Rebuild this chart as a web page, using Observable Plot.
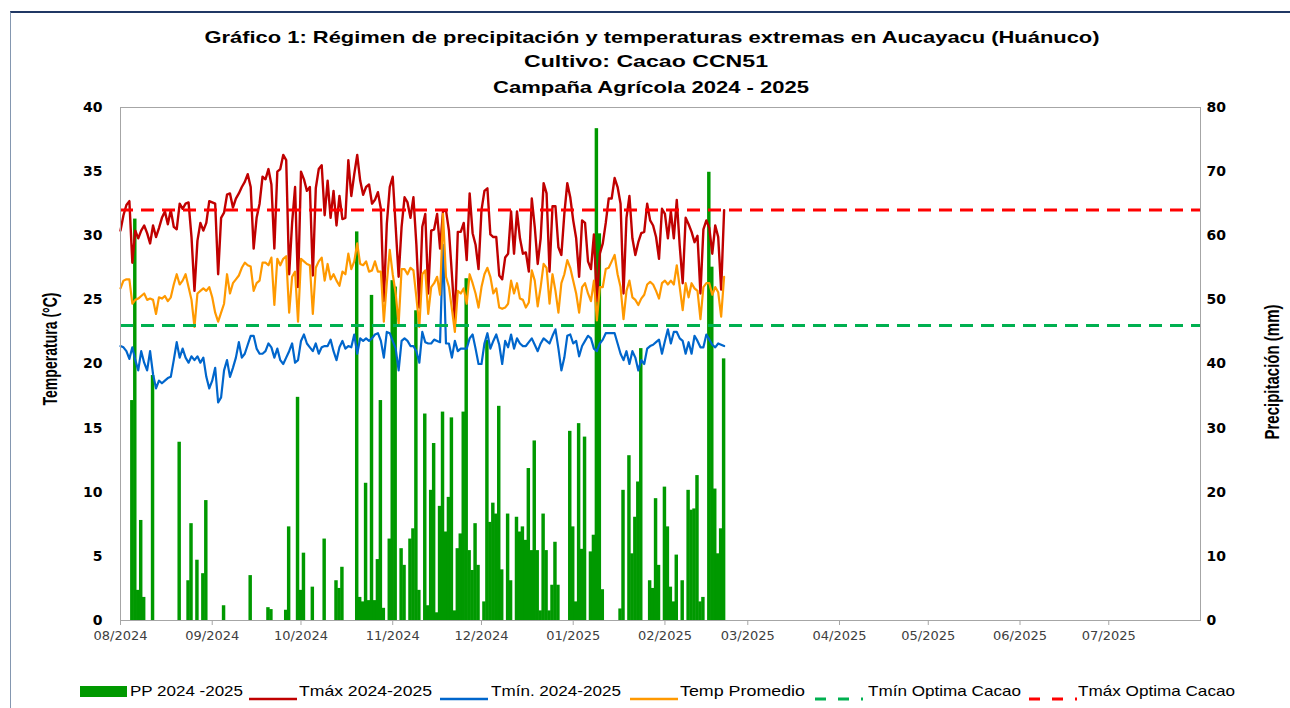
<!DOCTYPE html>
<html><head><meta charset="utf-8">
<script src="https://cdn.jsdelivr.net/npm/d3@7"></script>
<script src="https://cdn.jsdelivr.net/npm/@observablehq/plot@0.6"></script>
<style>
 body{margin:0;background:#fff;}
 #wrap{position:relative;width:1290px;height:708px;overflow:hidden;background:#fff;}
 #border{position:absolute;left:10px;top:11px;width:1300px;height:720px;border-top:2px solid #203864;border-left:1.5px solid #8497B0;box-sizing:border-box;}
 .t{position:absolute;white-space:nowrap;font-family:"Liberation Sans",Arial,sans-serif;font-weight:bold;color:#000;line-height:1;}
 #chart{position:absolute;left:0;top:90px;}
 .leg{position:absolute;white-space:nowrap;font-family:"Liberation Sans",Arial,sans-serif;font-size:15px;color:#000;top:682px;line-height:18px;transform-origin:0 50%;}
 .sw{position:absolute;}
</style></head>
<body>
<div id="wrap"><div id="border"></div><div id="chart"></div></div>
<script>
// ---- data (daily, starting 2024-08-01) ----
const startDate = "2024-08-01";
const tmax = [30.4,31.6,32.4,32.7,27.9,30.4,29.8,30.4,30.8,30.2,
 29.4,30.8,29.9,30.6,31.4,31.9,30.9,32.0,30.7,30.5,
 32.5,32.1,32.5,32.6,29.9,25.7,29.6,31.0,30.4,31.0,
 32.7,32.6,32.5,27.0,31.4,31.8,33.2,33.3,32.2,32.9,
 33.3,33.8,34.2,34.8,33.8,29.0,31.4,32.5,34.6,34.4,
 35.2,34.0,29.0,35.0,35.2,36.3,35.9,27.0,31.0,33.8,
 26.0,35.0,34.4,33.5,33.8,26.9,33.7,35.2,35.5,31.6,
 34.3,31.4,33.5,30.8,33.1,31.3,31.4,35.9,33.1,34.8,
 36.3,34.3,33.2,33.8,34.0,32.5,32.8,33.4,32.1,24.9,
 30.9,33.8,34.6,30.7,26.8,30.7,33.0,32.6,31.4,33.0,
 29.3,24.4,30.7,31.7,25.5,30.4,30.5,31.7,29.0,31.9,
 32.0,30.4,27.0,23.4,30.3,30.3,31.0,28.1,33.3,30.2,
 29.3,27.4,32.0,33.5,33.7,30.1,29.9,29.9,26.9,26.6,
 28.3,28.6,31.9,28.6,31.9,29.8,28.6,28.7,27.2,32.9,
 30.7,27.8,29.8,34.1,33.3,27.2,32.3,32.3,29.1,28.5,
 31.7,34.1,33.0,31.2,29.8,26.8,31.2,31.0,28.0,27.4,
 30.1,24.9,28.6,29.4,31.0,32.9,32.9,34.5,33.8,32.5,
 25.5,31.4,33.1,29.8,28.5,29.5,30.2,30.3,32.5,31.2,
 30.8,29.9,28.2,32.1,31.7,29.8,31.9,29.8,32.8,29.2,
 26.3,31.4,30.9,30.3,29.5,30.0,25.5,30.5,31.2,30.6,
 28.6,30.8,29.9,25.8,32.0];
const tmin = [21.4,21.3,21.0,20.4,21.3,20.3,19.5,21.0,20.1,19.5,
 21.0,19.2,18.1,18.7,18.5,18.7,18.9,19.0,20.3,21.7,
 20.5,21.2,20.5,20.1,20.6,20.3,20.6,20.1,20.5,19.0,
 18.1,18.7,19.7,17.0,17.4,19.5,20.3,19.0,19.7,20.5,
 21.7,20.5,20.8,21.5,22.2,22.2,21.2,20.8,20.8,21.0,
 21.6,21.3,20.5,21.2,20.3,20.0,20.5,21.0,21.6,20.1,
 20.3,21.8,22.3,21.6,21.3,21.0,21.6,20.8,21.3,21.4,
 21.4,21.9,21.0,20.3,21.3,21.8,21.2,21.4,21.3,22.3,
 20.8,22.0,21.8,22.0,21.8,22.0,22.3,22.4,21.8,20.5,
 22.5,22.4,21.8,21.2,19.5,21.8,22.0,21.8,21.4,21.4,
 21.0,20.1,22.5,21.7,21.6,21.6,21.9,21.8,21.7,29.3,
 21.6,21.6,20.5,21.8,21.0,21.2,21.2,21.2,22.0,22.3,
 21.2,20.0,20.0,21.6,22.4,21.2,21.8,22.3,21.5,20.0,
 21.8,21.3,22.3,21.2,22.0,21.6,21.4,21.4,21.7,22.0,
 21.5,21.0,21.6,22.0,21.8,21.6,22.2,22.7,21.2,19.5,
 20.5,22.2,22.3,21.6,21.8,20.6,21.4,21.8,22.2,22.0,
 21.2,21.0,21.6,21.9,22.4,22.4,22.4,22.4,21.6,20.8,
 20.3,21.0,20.0,21.0,20.5,19.5,20.3,20.0,21.2,21.4,
 21.5,21.7,21.9,20.8,21.8,22.7,21.6,22.5,22.5,22.0,
 21.8,20.8,21.7,20.8,22.2,21.8,21.3,21.3,22.3,21.9,
 21.5,21.3,21.6,21.5,21.4];
const tavg = [25.9,26.5,26.6,26.6,24.7,25.0,25.1,25.3,25.5,25.0,
 25.1,25.0,23.9,25.2,25.1,25.3,24.9,25.2,26.2,27.0,
 26.2,26.5,27.0,26.0,25.0,22.9,25.5,25.7,25.9,25.7,
 26.0,25.2,24.0,23.3,24.0,24.7,27.0,25.5,26.3,26.6,
 26.9,27.5,27.9,27.7,27.6,25.7,26.3,26.5,27.9,27.9,
 27.7,28.3,24.6,28.2,27.7,28.2,28.4,24.0,26.8,27.2,
 23.3,28.2,28.0,27.8,27.7,23.9,27.5,28.0,28.3,26.5,
 27.8,26.6,27.0,26.5,26.1,27.2,27.0,28.6,27.4,28.0,
 29.4,27.8,27.7,28.0,27.2,27.3,28.0,27.2,27.2,23.3,
 26.3,28.9,27.0,25.5,23.1,27.4,27.4,27.0,27.5,27.3,
 25.2,22.9,27.0,27.3,23.9,26.0,26.3,26.8,25.4,31.7,
 26.8,26.0,24.3,22.5,25.7,25.5,25.9,24.7,27.0,26.3,
 25.5,24.4,26.0,27.0,27.5,26.8,25.5,25.9,24.4,24.3,
 24.4,24.7,26.5,25.5,26.3,25.1,25.0,24.4,24.8,27.3,
 26.5,24.5,26.0,27.8,27.5,24.7,27.0,25.7,24.0,26.3,
 27.0,28.1,27.5,26.5,25.5,24.0,26.0,26.3,25.5,24.9,
 26.5,23.4,26.0,26.0,27.4,27.5,28.0,28.5,27.0,26.0,
 23.5,25.7,26.5,25.2,25.0,24.6,25.1,25.4,26.2,26.4,
 26.2,25.7,25.1,26.3,26.5,26.2,26.5,26.2,27.7,26.0,
 24.2,26.3,25.2,26.3,25.9,25.7,23.5,26.0,26.3,26.3,
 25.4,26.0,25.6,23.7,26.8];
const pp = [0,0,0,0,34.3,62.6,4.7,15.6,3.6,0,
 0,38.2,0,0,0,0,0,0,0,0,
 27.8,0,0,6.2,15.1,0,9.4,0,7.3,18.7,
 0,0,0,0,0,2.3,0,0,0,0,
 0,0,0,0,7.0,0,0,0,0,0,
 2.0,1.7,0,0,0,0,1.6,14.6,0,0,
 34.8,4.7,10.5,0,0,5.2,0,0,0,12.7,
 0,0,0,6.2,5.0,8.3,0,0,0,0,
 60.6,3.6,2.9,21.4,3.1,50.7,3.1,9.5,34.3,1.9,
 0,12.7,53.0,52.0,0,11.2,8.6,0,12.7,14.3,
 48.3,4.7,0,32.2,2.3,20.3,27.6,1.2,17.8,32.5,
 13.8,19.2,31.6,1.5,11.2,13.5,32.5,53.3,10.9,7.8,
 15.1,8.6,0,2.9,43.7,15.3,18.3,16.6,33.4,7.9,
 0,16.6,6.2,0,16.1,13.8,14.6,12.5,23.7,10.9,
 28.0,10.9,1.5,16.6,10.9,1.5,5.5,12.2,5.5,0,
 0,0,29.5,14.6,2.9,30.7,11.1,28.6,0,10.7,
 13.3,76.7,60.3,4.8,0,0,0,0,0,1.8,
 20.3,0,25.7,10.4,16.1,21.6,42.4,0,0,6.2,
 5.0,19.0,8.6,0,20.8,14.6,5.2,2.9,10.2,0,
 6.2,0,20.3,17.2,17.4,22.6,2.9,3.6,0,69.9,
 55.1,20.5,10.4,14.3,40.8];
const tminOptima = 23;
const tmaxOptima = 32;
const yTicks = [0,5,10,15,20,25,30,35,40];
const axisStart = "2024-08-01", axisEnd = "2025-08-01";
const titleLines = ["Gráfico 1: Régimen de precipitación y temperaturas extremas en Aucayacu (Huánuco)","Cultivo: Cacao CCN51","Campaña Agrícola 2024 - 2025"];
const legendLabels = ["PP 2024 -2025","Tmáx 2024-2025","Tmín. 2024-2025","Temp Promedio","Tmín Optima Cacao","Tmáx Optima Cacao"];
const colors = {pp:"#009900", tmax:"#C00000", tmin:"#0066CC", tavg:"#FF9900", tminOpt:"#00B050", tmaxOpt:"#FF0000"};

// ---- build ----
const DAY = 86400000;
const t0 = new Date(startDate + "T00:00:00Z");
const rows = tmax.map((v,i) => ({date: new Date(+t0 + i*DAY), tmax: v, tmin: tmin[i], tavg: tavg[i], pp: pp[i]}));
const bars = rows.filter(d => d.pp > 0);
const x0 = new Date(axisStart + "T00:00:00Z"), x1 = new Date(axisEnd + "T00:00:00Z");
const months = d3.utcMonths(x0, x1);
const fmt = d3.utcFormat("%m/%Y");
const half = 14*3600000;

const chart = Plot.plot({
  width: 1290, height: 570,
  marginLeft: 120, marginRight: 90, marginTop: 17, marginBottom: 40,
  style: {fontFamily: "DejaVu Sans", background: "transparent", overflow: "visible"},
  x: {type: "utc", domain: [x0, x1]},
  y: {domain: [0, 40]},
  marks: [
    Plot.rectY(bars, {x1: d => new Date(+d.date - half), x2: d => new Date(+d.date + half), y1: 0, y2: d => d.pp / 2, fill: colors.pp}),
    Plot.line(rows, {x: "date", y: "tmax", stroke: colors.tmax, strokeWidth: 2.4}),
    Plot.line(rows, {x: "date", y: "tmin", stroke: colors.tmin, strokeWidth: 2.2}),
    Plot.line(rows, {x: "date", y: "tavg", stroke: colors.tavg, strokeWidth: 2.2}),
    Plot.ruleY([tminOptima], {stroke: colors.tminOpt, strokeWidth: 3, strokeDasharray: "13,8"}),
    Plot.ruleY([tmaxOptima], {stroke: colors.tmaxOpt, strokeWidth: 3, strokeDasharray: "13,8"}),
    Plot.frame({stroke: "#A6A6A6"}),
    Plot.axisX({ticks: months, tickFormat: fmt, tickSize: 5, tickPadding: 5, fontSize: 13, label: null, stroke: "#A6A6A6", fill: "#404040"}),
    Plot.axisY({anchor: "left", ticks: yTicks, tickSize: 0, tickPadding: 18, fontSize: 14, fontWeight: "bold", label: null, fill: "#000"}),
    Plot.axisY({anchor: "right", ticks: yTicks, tickFormat: d => d * 2, tickSize: 0, tickPadding: 6, fontSize: 14, fontWeight: "bold", label: null, fill: "#000"})
  ]
});
document.getElementById("chart").appendChild(chart);

const wrap = document.getElementById("wrap");
function place(text, cx, cy, w, size, rot) {
  const el = document.createElement("div");
  el.className = "t";
  el.textContent = text;
  el.style.fontSize = size + "px";
  el.style.left = cx + "px";
  el.style.top = cy + "px";
  wrap.appendChild(el);
  const nat = el.getBoundingClientRect().width;
  const k = w / nat;
  el.style.transform = "translate(-50%,-50%) " + (rot ? "rotate(-90deg) " : "") + "scaleX(" + k + ")";
}
place(titleLines[0], 652, 37, 895, 17, false);
place(titleLines[1], 646, 61, 244, 17, false);
place(titleLines[2], 651, 87, 316, 17, false);
place("Temperatura (°C)", 50, 349, 113, 20, true);
place("Precipitación (mm)", 1272, 372, 135, 20, true);

// legend
function sw(html, left, top, w, h) {
  const s = document.createElement("div");
  s.className = "sw";
  s.style.left = left + "px"; s.style.top = top + "px";
  s.style.width = w + "px"; s.style.height = h + "px";
  s.innerHTML = html;
  wrap.appendChild(s);
  return s;
}
function leg(text, left, w) {
  const el = document.createElement("div");
  el.className = "leg"; el.textContent = text; el.style.left = left + "px";
  wrap.appendChild(el);
  const nat = el.getBoundingClientRect().width;
  el.style.transform = "scaleX(" + (w / nat) + ")";
}
sw("", 80, 686, 47, 11).style.background = colors.pp;
const lineSw = (c, dash) => `<svg width="48" height="6"><line x1="0" y1="3" x2="48" y2="3" stroke="${c}" stroke-width="${dash ? 3 : 2.5}" ${dash ? 'stroke-dasharray="11,12"' : ''}/></svg>`;
sw(lineSw(colors.tmax), 249, 688, 46, 6);
sw(lineSw(colors.tmin), 440, 688, 47, 6);
sw(lineSw(colors.tavg), 630, 688, 46, 6);
sw(lineSw(colors.tminOpt, true), 815, 688, 36, 6);
sw(lineSw(colors.tmaxOpt, true), 1029, 688, 36, 6);
leg(legendLabels[0], 130, 113);
leg(legendLabels[1], 299, 133);
leg(legendLabels[2], 491, 130);
leg(legendLabels[3], 680, 125);
leg(legendLabels[4], 868, 153);
leg(legendLabels[5], 1078, 157);
</script>
</body></html>
